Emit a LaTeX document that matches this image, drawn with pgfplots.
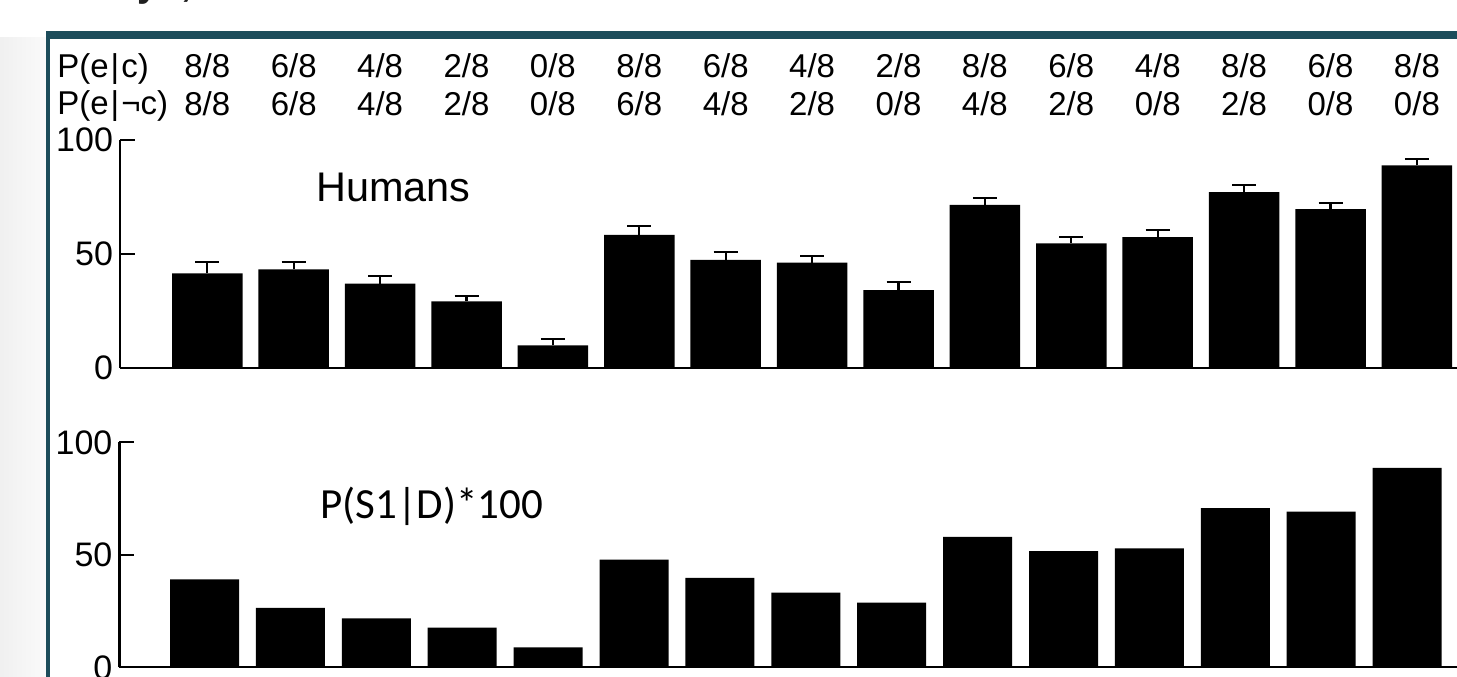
\documentclass[border=0pt]{standalone}
\usepackage{pgfplots}
\pgfplotsset{compat=1.18}
\usepackage{pgfplotstable}
\usepackage{fontspec}
\setmainfont{Liberation Sans}
\newfontfamily\calibri{Carlito}
\definecolor{frame}{HTML}{1D4D5B}

\pgfplotstableread{
x y e
0 41.45 5.1
1 43.2 3.35
2 36.9 3.4
3 29.1 2.5
4 9.8 2.6
5 58.3 3.9
6 47.3 3.4
7 46.1 2.8
8 34.1 3.5
9 71.5 3.1
10 54.6 2.9
11 57.4 3.0
12 77.1 3.0
13 69.7 2.5
14 88.9 2.9
}\humans

\pgfplotstableread{
x y
0 39.1
1 26.4
2 21.8
3 17.6
4 8.9
5 47.9
6 39.8
7 33.2
8 28.7
9 58.0
10 51.6
11 52.9
12 70.8
13 69.2
14 88.6
}\model

\pgfplotstableread{
x y lab
0 127.3 8/8
1 127.3 6/8
2 127.3 4/8
3 127.3 2/8
4 127.3 0/8
5 127.3 8/8
6 127.3 6/8
7 127.3 4/8
8 127.3 2/8
9 127.3 8/8
10 127.3 6/8
11 127.3 4/8
12 127.3 8/8
13 127.3 6/8
14 127.3 8/8
}\rowone

\pgfplotstableread{
x y lab
0 111.0 8/8
1 111.0 6/8
2 111.0 4/8
3 111.0 2/8
4 111.0 0/8
5 111.0 6/8
6 111.0 4/8
7 111.0 2/8
8 111.0 0/8
9 111.0 4/8
10 111.0 2/8
11 111.0 0/8
12 111.0 2/8
13 111.0 0/8
14 111.0 0/8
}\rowtwo

\pgfplotsset{panel/.style={
  axis x line=bottom, axis y line=left,
  axis line style={-, line width=1.1pt, black},
  every outer x axis line/.append style={-},
  every outer y axis line/.append style={-},
  xtick=\empty, ytick={0,50,100},
  tick align=inside, major tick length=7.5pt,
  tick style={line width=1.1pt, black},
  ymin=0, ymax=100, enlargelimits=false, clip=false,
  yticklabel style={font=\fontsize{17}{20}\selectfont},
  /pgf/number format/assume math mode=true,
  anchor=origin,
}}

\begin{document}
\begin{tikzpicture}[x=0.5pt,y=0.5pt]
\useasboundingbox (0,0) rectangle (1457,676);
\clip (0,0) rectangle (1457,676);
\fill[white] (0,0) rectangle (1457,676);
\shade[left color=black!6, right color=black!2] (0,-5) rectangle (45.5,638);
\node[anchor=base west, inner sep=0pt, text=black!88, font=\bfseries\fontsize{19}{22}\selectfont] at (137,679) {yo,};
\fill[frame] (45.5,-10) rectangle (50,644.5);
\fill[frame] (45.5,637) rectangle (1470,644.5);

% top panel: humans
\begin{axis}[panel, at={(103.65pt,154.2pt)}, x=43.2pt, y=1.1375pt,
  xmin=-1.01, xmax=14.6]
\addplot[ybar, bar width=35.25pt, fill=black, draw=none,
  error bars/.cd, y dir=plus, y explicit,
  error bar style={line width=1.1pt, black},
  error mark options={rotate=90, mark size=6pt, line width=1.1pt, black}]
  table[x=x, y=y, y error=e] {\humans};
\addplot[only marks, mark=none, nodes near coords, point meta=explicit symbolic,
  nodes near coords style={anchor=base, inner sep=0pt, font=\fontsize{16.5}{19}\selectfont}]
  table[x=x, y=y, meta=lab] {\rowone};
\addplot[only marks, mark=none, nodes near coords, point meta=explicit symbolic,
  nodes near coords style={anchor=base, inner sep=0pt, font=\fontsize{16.5}{19}\selectfont}]
  table[x=x, y=y, meta=lab] {\rowtwo};
\end{axis}

% bottom panel: model
\begin{axis}[panel, at={(102.25pt,4.35pt)}, x=42.95pt, y=1.125pt,
  xmin=-0.99, xmax=14.7]
\addplot[ybar, bar width=34.5pt, fill=black, draw=none]
  table[x=x, y=y] {\model};
\end{axis}

\node[anchor=base west, inner sep=0pt, font=\fontsize{16.5}{19}\selectfont] at (57,598) {P(e\kern1pt|\kern1pt c)};
\node[anchor=base west, inner sep=0pt, font=\fontsize{16.5}{19}\selectfont] at (57,561) {P(e\kern1pt|\kern1pt¬c)};
\node[anchor=base west, inner sep=0pt, font=\fontsize{20.7}{24}\selectfont] at (316,474) {Humans};
\node[anchor=base west, inner sep=0pt, font=\calibri\fontsize{21.5}{25}\selectfont] at (320,158) {P(S1|D)*100};
\end{tikzpicture}
\end{document}
